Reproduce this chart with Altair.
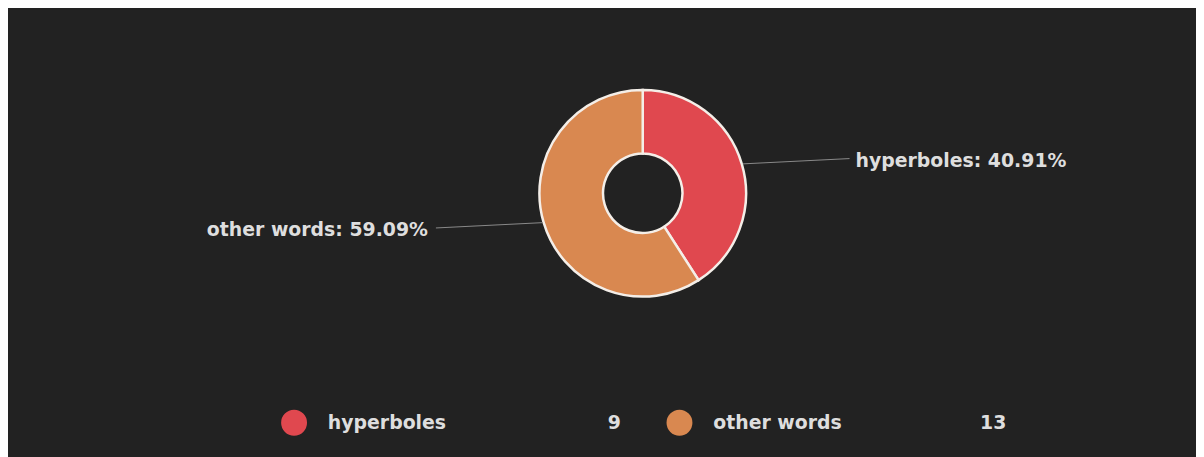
import altair as alt
import pandas as pd

# ---- data ----
categories = ["hyperboles", "other words"]
counts = [9, 13]
colors = ["#E0484F", "#D98850"]
order_idx = [0, 1]

total = sum(counts)
labels = [f"{c}: {n / total * 100:.2f}%" for c, n in zip(categories, counts)]

df = pd.DataFrame({"category": categories, "count": counts, "label": labels, "idx": order_idx})

# ---- layout ----
W, H = 1196, 449
CX, CY = 639, 185
R_OUT, R_IN = 104, 40
TEXT_COLOR = "#dedede"
FONT = "DejaVu Sans"
FS = 19

color_enc = alt.Color("category:N", scale=alt.Scale(domain=categories, range=colors), legend=None)

base = alt.Chart(df)

arc = base.mark_arc(outerRadius=R_OUT, innerRadius=R_IN, stroke="#f4eee8", strokeWidth=2.5).encode(
    theta=alt.Theta("count:Q", stack=True),
    color=color_enc,
    order=alt.Order("idx:Q"),
    x=alt.value(CX),
    y=alt.value(CY),
)

geo = base.transform_joinaggregate(total="sum(count)").transform_window(
    cum="sum(count)", sort=[alt.SortField("idx")], frame=[None, 0]
).transform_calculate(
    mid="(datum.cum - datum.count / 2) / datum.total * 2 * PI",
).transform_calculate(
    x0=f"{CX} + {R_OUT + 1} * sin(datum.mid)",
    y0=f"{CY} - {R_OUT + 1} * cos(datum.mid)",
    x1=f"{CX} + 217 * sin(datum.mid)",
    y1=f"{CY} - 124 * cos(datum.mid)",
    side="sin(datum.mid) >= 0 ? 1 : -1",
).transform_calculate(
    tx="datum.x1 + (datum.side > 0 ? 6 : -8)",
)

leader = geo.mark_rule(color="#8a8a8a", strokeWidth=1).encode(
    x=alt.X("x0:Q", scale=None, axis=None),
    y=alt.Y("y0:Q", scale=None, axis=None),
    x2="x1:Q",
    y2="y1:Q",
)

text_right = geo.transform_filter("datum.side > 0").mark_text(
    align="left", baseline="middle", font=FONT, fontSize=FS, fontWeight="bold", color=TEXT_COLOR, dy=2
).encode(
    x=alt.X("tx:Q", scale=None, axis=None),
    y=alt.Y("y1:Q", scale=None, axis=None),
    text="label:N",
)

text_left = geo.transform_filter("datum.side < 0").mark_text(
    align="right", baseline="middle", font=FONT, fontSize=FS, fontWeight="bold", color=TEXT_COLOR, dy=2
).encode(
    x=alt.X("tx:Q", scale=None, axis=None),
    y=alt.Y("y1:Q", scale=None, axis=None),
    text="label:N",
)

# ---- custom legend ----
leg = base.transform_calculate(
    lx="288 + datum.idx * 388",
).transform_calculate(
    tx="datum.lx + 34",
    cx2="datum.lx + 329",
)

LEG_Y = 416

leg_sym = leg.mark_point(filled=True, size=680, opacity=1, shape="circle").encode(
    x=alt.X("lx:Q", scale=None, axis=None),
    y=alt.value(LEG_Y),
    color=color_enc,
)

leg_txt = leg.mark_text(
    align="left", baseline="middle", font=FONT, fontSize=FS, fontWeight="bold", color=TEXT_COLOR
).encode(
    x=alt.X("tx:Q", scale=None, axis=None),
    y=alt.value(LEG_Y),
    text="category:N",
)

leg_cnt = leg.mark_text(
    align="right", baseline="middle", font=FONT, fontSize=FS, fontWeight="bold", color=TEXT_COLOR
).encode(
    x=alt.X("cx2:Q", scale=None, axis=None),
    y=alt.value(LEG_Y),
    text="count:Q",
)

chart = alt.layer(arc, leader, text_right, text_left, leg_sym, leg_txt, leg_cnt).properties(
    width=W, height=H, padding=0, autosize="none", background="#222222"
).configure_view(strokeWidth=0)

chart.save("out.html", embed_options={"renderer": "svg", "actions": False})
